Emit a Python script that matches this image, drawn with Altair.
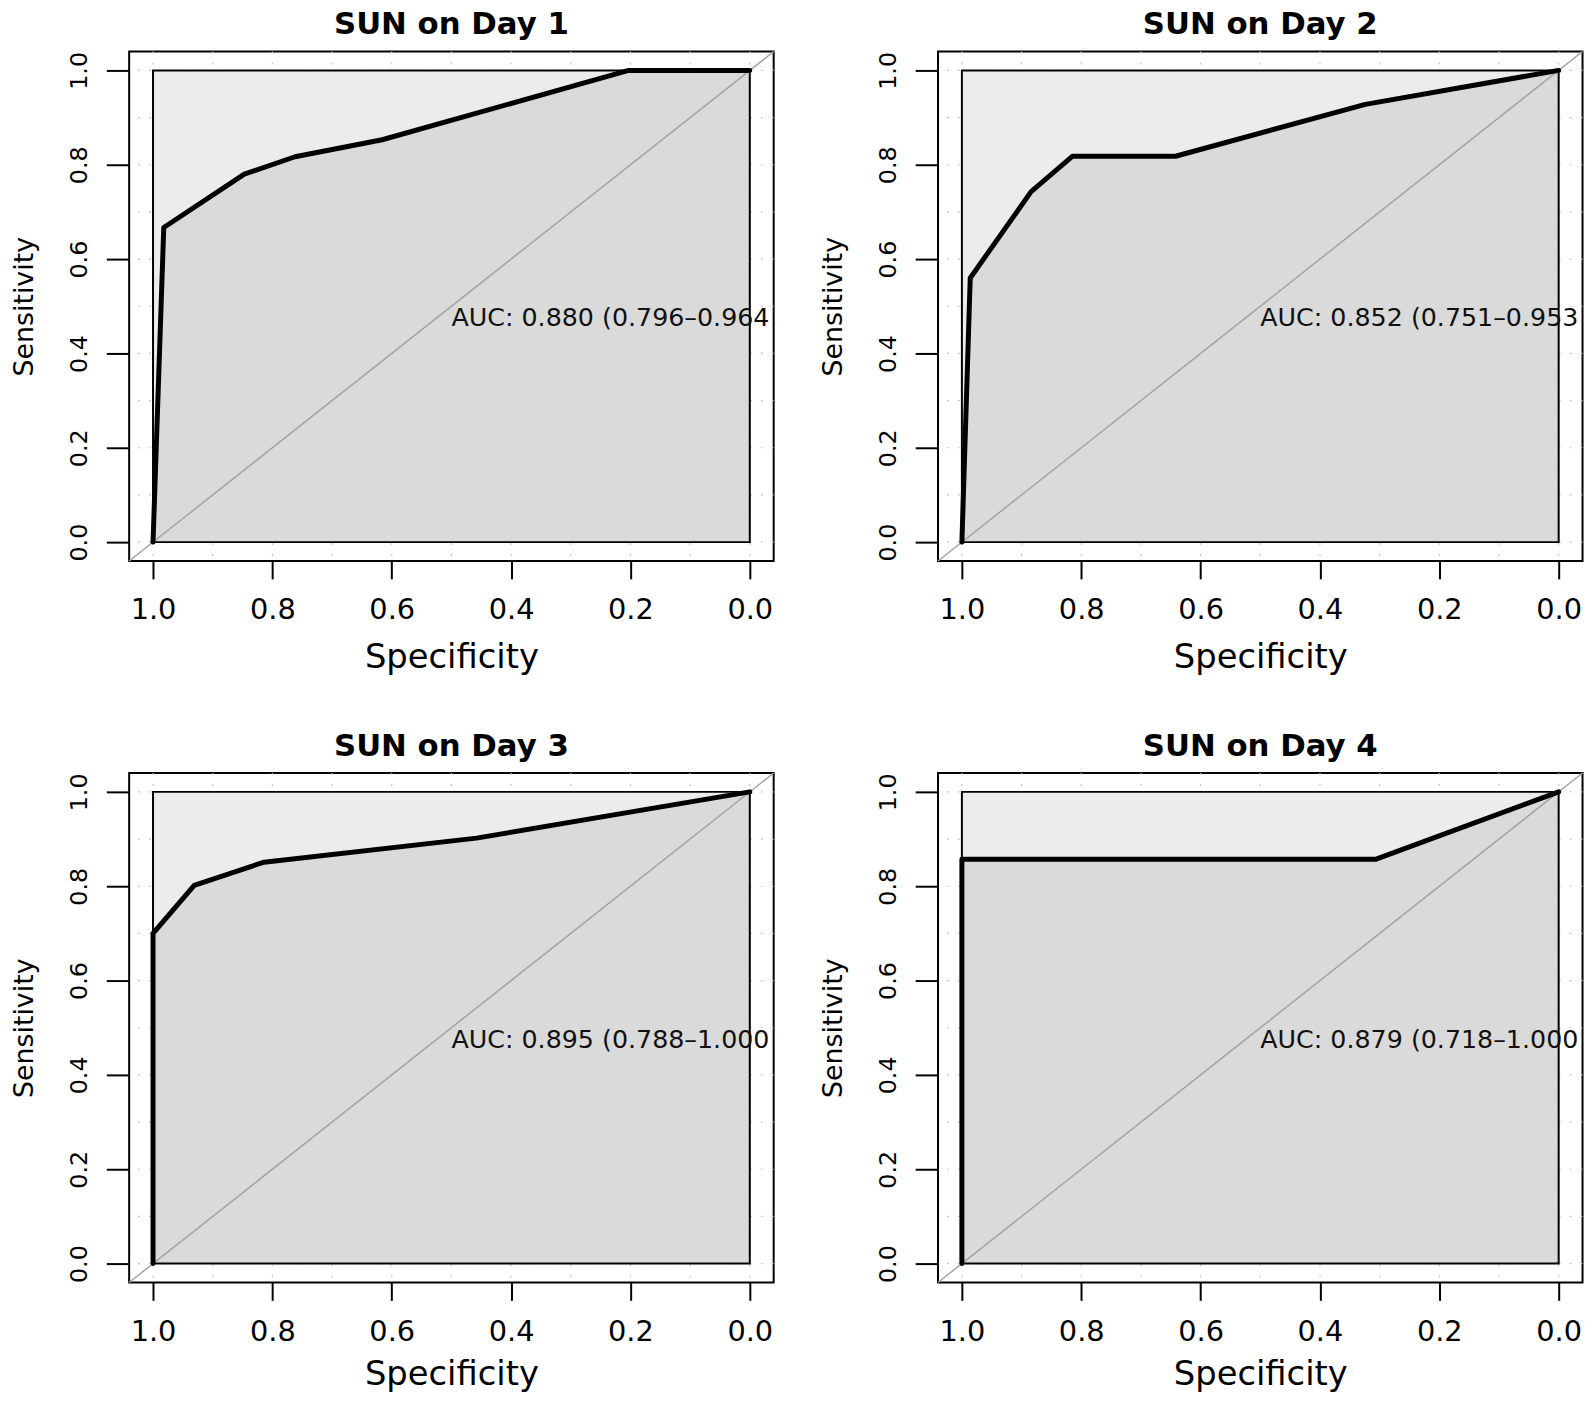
import altair as alt
import pandas as pd

# ---------------- data ----------------
titles = ["SUN on Day 1", "SUN on Day 2", "SUN on Day 3", "SUN on Day 4"]
auc_labels = [
    "AUC: 0.880 (0.796\u20130.964)",
    "AUC: 0.852 (0.751\u20130.953)",
    "AUC: 0.895 (0.788\u20131.000)",
    "AUC: 0.879 (0.718\u20131.000)",
]

spec_day1 = [1.0, 0.982, 0.847, 0.762, 0.616, 0.203, 0.0]
sens_day1 = [0.0, 0.667, 0.780, 0.817, 0.853, 1.0, 1.0]

spec_day2 = [1.0, 0.986, 0.884, 0.815, 0.642, 0.324, 0.0]
sens_day2 = [0.0, 0.560, 0.743, 0.818, 0.818, 0.928, 1.0]

spec_day3 = [1.0, 1.0, 0.931, 0.814, 0.458, 0.0]
sens_day3 = [0.0, 0.700, 0.802, 0.851, 0.902, 1.0]

spec_day4 = [1.0, 1.0, 0.307, 0.0]
sens_day4 = [0.0, 0.857, 0.857, 1.0]

tick_vals = [0.0, 0.2, 0.4, 0.6, 0.8, 1.0]
grid_vals = [0.0, 0.1, 0.2, 0.3, 0.4, 0.5, 0.6, 0.7, 0.8, 0.9, 1.0]
axis_domain = [-0.04, 1.04]
max_box = {"x": [1.0], "x2": [0.0], "y": [0.0], "y2": [1.0]}
diag_spec = [1.04, -0.04]
diag_sens = [-0.04, 1.04]
auc_text_pos = (0.5, 0.5)

# ---------------- layout / style ----------------
W, H = 649, 513
FONT = "DejaVu Sans"
# room between the AUC label's start (specificity 0.5) and the panel's right edge
TEXT_ROOM = W * (auc_text_pos[0] - axis_domain[0]) / (axis_domain[1] - axis_domain[0])


def make_x_axis(title_y):
    return alt.Axis(
        values=tick_vals, format=".1f", title="Specificity",
        grid=False, domain=False, labelFlush=False, labelOverlap=False, labelBound=False,
        tickSize=18, tickWidth=2, tickColor="black",
        labelFont=FONT, labelFontSize=29, labelColor="black", labelPadding=17,
        titleFont=FONT, titleFontSize=34, titleFontWeight="normal", titleColor="black",
        titleX=W / 2, titleY=title_y, titleBaseline="alphabetic", titleAlign="center",
    )


y_axis = alt.Axis(
    values=tick_vals, format=".1f", title="Sensitivity",
    grid=False, domain=False, labelFlush=False, labelOverlap=False, labelBound=False,
    tickSize=23, tickWidth=2, tickColor="black",
    labelFont=FONT, labelFontSize=24, labelColor="black", labelPadding=20.2,
    labelAngle=270, labelAlign="center", labelBaseline="alphabetic",
    titleFont=FONT, titleFontSize=27, titleFontWeight="normal", titleColor="black",
    titleAngle=270, titleX=-97, titleY=H / 2, titleBaseline="alphabetic", titleAlign="center",
)

xs = alt.Scale(domain=axis_domain, reverse=True, nice=False, zero=False)
ys = alt.Scale(domain=axis_domain, nice=False, zero=False)


def panel(title, spec, sens, label, x_title_y, anchor=False):
    x_axis = make_x_axis(x_title_y)

    def X(field="x"):
        return alt.X(f"{field}:Q", scale=xs, axis=x_axis)

    def Y(field="y"):
        return alt.Y(f"{field}:Q", scale=ys, axis=y_axis)

    curve = pd.DataFrame({"x": spec, "y": sens, "i": list(range(len(spec)))})
    # the area already closes down to sensitivity 0, so a vertical start at
    # specificity 1.0 is represented by its upper point only
    start = 1 if spec[0] == spec[1] else 0
    area_df = pd.DataFrame({"x": spec[start:], "y": sens[start:], "b": [0.0] * (len(spec) - start)})
    grid = pd.DataFrame({"x": grid_vals, "y": grid_vals})
    box = pd.DataFrame(max_box)
    diag = pd.DataFrame({"x": diag_spec, "y": diag_sens, "i": [0, 1]})
    txt = pd.DataFrame({"x": [auc_text_pos[0]], "y": [auc_text_pos[1]], "t": [label]})

    grid_v = alt.Chart(grid).mark_rule(color="#C4C4C4", strokeWidth=1.2, strokeDash=[2, 9]).encode(x=X())
    grid_h = alt.Chart(grid).mark_rule(color="#C4C4C4", strokeWidth=1.2, strokeDash=[2, 9]).encode(y=Y())
    max_fill = alt.Chart(box).mark_rect(color="#ECECEC").encode(
        x=X(), x2="x2:Q", y=Y(), y2="y2:Q")
    area = alt.Chart(area_df).mark_area(color="#DADADA", opacity=1).encode(
        x=X(), y=Y(), y2="b:Q")
    outline = alt.Chart(box).mark_rect(fillOpacity=0, stroke="black", strokeWidth=2).encode(
        x=X(), x2="x2:Q", y=Y(), y2="y2:Q")
    diag_line = alt.Chart(diag).mark_line(color="#A3A3A3", strokeWidth=1.5).encode(
        x=X(), y=Y(), order=alt.Order("i:Q"))
    roc = alt.Chart(curve).mark_line(color="black", strokeWidth=5, strokeJoin="round", strokeCap="round").encode(
        x=X(), y=Y(), order=alt.Order("i:Q"))
    text = alt.Chart(txt).mark_text(
        align="left", baseline="top", font=FONT, fontSize=25.5, color="#111111",
        limit=TEXT_ROOM - 1, ellipsis="\u200b", clip=True,
    ).encode(x=X(), y=Y(), text="t:N")

    layers = [grid_v, grid_h, max_fill, area, outline, diag_line, roc, text]
    if anchor:
        # invisible point fixing the left edge of the whole figure
        anc = alt.Chart(pd.DataFrame({"a": [0]})).mark_rule(strokeOpacity=0, opacity=0).encode(
            x=alt.value(-120.2), x2=alt.value(-120.2), y=alt.value(H / 2), y2=alt.value(H / 2))
        layers.append(anc)

    return alt.layer(*layers).properties(
        width=W, height=H,
        title=alt.TitleParams(
            text=title, font=FONT, fontSize=31, fontWeight="bold", color="black",
            anchor="middle", frame="group", baseline="alphabetic", offset=0, dy=16.7,
        ),
    )


p1 = panel(titles[0], spec_day1, sens_day1, auc_labels[0], 107.5, anchor=True)
p2 = panel(titles[1], spec_day2, sens_day2, auc_labels[1], 107.5)
p3 = panel(titles[2], spec_day3, sens_day3, auc_labels[2], 103)
p4 = panel(titles[3], spec_day4, sens_day4, auc_labels[3], 103)

chart = (
    alt.concat(
        p1, p2, p3, p4, columns=2,
        spacing=alt.RowColnumber(row=213.5, column=165.5), bounds="flush",
    )
    .properties(padding={"top": -5, "left": 0, "right": 0, "bottom": 0}, background="white")
    .configure_view(stroke="black", strokeWidth=2)
)

chart.save("out.html", embed_options={"renderer": "svg", "actions": False})
